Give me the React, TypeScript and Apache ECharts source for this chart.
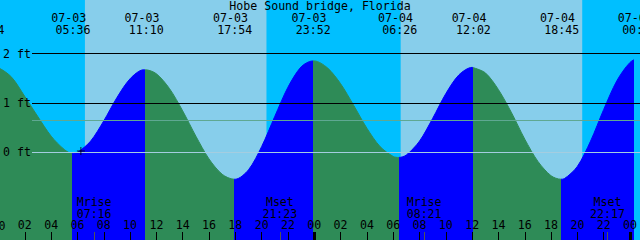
import React, { useEffect, useRef } from 'react';
import * as echarts from 'echarts';

// ---------- data ----------
const TITLE = 'Hobe Sound bridge, Florida';

// high / low tide events
const tideEventDates = ['07-02', '07-03', '07-03', '07-03', '07-03', '07-04', '07-04', '07-04', '07-05'];
const tideEventTimes = ['23:04', '05:36', '11:10', '17:54', '23:52', '06:26', '12:02', '18:45', '00:40'];
const tideEventKinds = ['H', 'L', 'H', 'L', 'H', 'L', 'H', 'L', 'H'];

// tide curve (hours from 07-03 00:00, feet)
const tideHours = [
  -1, -0.93, 0, 1, 2, 3, 4, 5, 5.6,
  6, 7, 8, 9, 10, 11, 11.17,
  12, 13, 14, 15, 16, 17, 17.9,
  18, 19, 20, 21, 22, 23, 23.87,
  24, 25, 26, 27, 28, 29, 30, 30.43,
  31, 32, 33, 34, 35, 36, 36.03,
  37, 38, 39, 40, 41, 42, 42.75,
  43, 44, 45, 46, 47, 48, 48.67, 49,
];
const tideFeet = [
  1.76, 1.76, 1.71, 1.52, 1.13, 0.72, 0.33, 0.06, -0.02,
  0.0, 0.23, 0.64, 1.11, 1.49, 1.67, 1.67,
  1.59, 1.29, 0.84, 0.33, -0.13, -0.44, -0.54,
  -0.54, -0.35, 0.12, 0.73, 1.32, 1.73, 1.85,
  1.85, 1.71, 1.39, 0.95, 0.49, 0.12, -0.08, -0.1,
  -0.05, 0.23, 0.69, 1.19, 1.57, 1.72, 1.72,
  1.61, 1.27, 0.8, 0.27, -0.18, -0.47, -0.54,
  -0.53, -0.28, 0.23, 0.87, 1.45, 1.82, 1.9, 1.88,
];

// sun
const sunDates = ['07-03', '07-04'];
const sunriseTimes = ['06:34', '06:34'];
const sunsetTimes = ['20:22', '20:22'];

// moon
const moonDates = ['07-03', '07-03', '07-04', '07-04'];
const moonTimes = ['07:16', '21:23', '08:21', '22:17'];
const moonKinds = ['Mrise', 'Mset', 'Mrise', 'Mset'];

// day boundaries
const dayStarts = ['07-04', '07-05'];

// axis ticks / labels
const hourTicks = [0, 2, 4, 6, 8, 10, 12, 14, 16, 18, 20, 22, 24, 26, 28, 30, 32, 34, 36, 38, 40, 42, 44, 46, 48];
const depthLabels = [0, 1, 2];
const blackDepthLines = [1, 2];
const datumLevel = 0;
const mslLevel = 0.65;
const plusMark = [6.26, 0.03];

// ---------- styling ----------
const NIGHT = '#00BFFF';
const DAY = '#87CEEB';
const FLOOD = '#0000FF';
const EBB = '#2E8B57';
const FONT = 'DejaVu Sans Mono';
const FS = 11.6;
const X_MIN = 0.1875;
const X_MAX = 48.1875;

function toHours(date: string, time: string): number {
  const day = parseInt(date.slice(3), 10) - 3;
  const [hh, mm] = time.split(':').map(Number);
  return day * 24 + hh + mm / 60;
}

const hourText = (v: number) => String(Math.round(v) % 24).padStart(2, '0');

export default function App() {
  const ref = useRef<HTMLDivElement>(null);

  useEffect(() => {
    const chart = echarts.init(ref.current!, null, { renderer: 'svg' });

    const ev = tideEventDates.map((d, i) => ({
      t: toHours(d, tideEventTimes[i]),
      date: d,
      time: tideEventTimes[i],
      kind: tideEventKinds[i],
    }));

    const pieces: any[] = [];
    pieces.push({ lt: ev[0].t, color: ev[0].kind === 'H' ? FLOOD : EBB });
    for (let i = 0; i < ev.length - 1; i++) {
      pieces.push({ gte: ev[i].t, lt: ev[i + 1].t, color: ev[i].kind === 'L' ? FLOOD : EBB });
    }
    pieces.push({ gte: ev[ev.length - 1].t, color: ev[ev.length - 1].kind === 'L' ? FLOOD : EBB });

    const dayAreas = sunDates.map((d, i) => [
      { xAxis: toHours(d, sunriseTimes[i]) },
      { xAxis: toHours(d, sunsetTimes[i]) },
    ]);

    const labelPoints: any[] = [];
    ev.forEach((e) => {
      labelPoints.push({ xAxis: e.t, y: 17.7, label: { formatter: e.date, offset: [-3.5, 0] } });
      labelPoints.push({ xAxis: e.t, y: 30, label: { formatter: e.time, offset: [0.8, 0] } });
    });
    moonDates.forEach((d, i) => {
      labelPoints.push({
        xAxis: toHours(d, moonTimes[i]),
        y: 208,
        label: { formatter: moonKinds[i] + '\n' + moonTimes[i] },
      });
    });
    // hour labels that fall just outside the axis extent (partly visible at the edge)
    hourTicks
      .filter((h) => h < X_MIN || h > X_MAX)
      .forEach((h) => {
        labelPoints.push({ xAxis: h, y: 225.5, label: { formatter: hourText(h) } });
      });

    const overlayLines: any[] = [
      [
        { x: 32, yAxis: datumLevel, lineStyle: { color: '#a4cde0', width: 1, type: 'solid' } },
        { x: 640, yAxis: datumLevel },
      ],
      [
        { x: 32, yAxis: mslLevel, lineStyle: { color: '#5fa892', width: 1, type: 'solid' } },
        { x: 640, yAxis: mslLevel },
      ],
    ];
    dayStarts.forEach((d) => {
      const t = toHours(d, '00:00');
      overlayLines.push([
        { xAxis: t, y: 232, lineStyle: { color: '#000', width: 3, type: 'solid' } },
        { xAxis: t, y: 240 },
      ]);
    });
    moonDates.forEach((d, i) => {
      const t = toHours(d, moonTimes[i]);
      overlayLines.push([
        { xAxis: t, y: 232, lineStyle: { color: '#555', width: 1, type: 'solid' } },
        { xAxis: t, y: 240 },
      ]);
    });

    const option: any = {
      animation: false,
      backgroundColor: NIGHT,
      title: {
        text: TITLE,
        left: 'center',
        top: 0,
        padding: 0,
        textStyle: { fontFamily: FONT, fontSize: FS, fontWeight: 'normal', color: '#000', lineHeight: 12 },
      },
      grid: { left: 0, right: 0, top: 0, bottom: 0, containLabel: false },
      xAxis: {
        type: 'value',
        z: 10,
        min: X_MIN,
        max: X_MAX,
        position: 'bottom',
        axisLine: { show: false, onZero: false },
        splitLine: { show: false },
        axisTick: {
          show: true,
          inside: true,
          length: 8,
          customValues: hourTicks,
          lineStyle: { color: '#000', width: 1 },
        },
        axisLabel: {
          show: true,
          inside: true,
          margin: 9,
          customValues: hourTicks,
          showMinLabel: true,
          showMaxLabel: true,
          hideOverlap: false,
          color: '#000',
          fontFamily: FONT,
          fontSize: FS,
          lineHeight: 12,
          formatter: hourText,
        },
      },
      yAxis: {
        type: 'value',
        z: 10,
        min: -1.768,
        max: 3.081,
        axisLine: { show: false, onZero: false },
        axisTick: { show: false },
        splitLine: { show: false },
        axisLabel: {
          show: true,
          inside: true,
          margin: 2,
          customValues: depthLabels,
          color: '#000',
          fontFamily: FONT,
          fontSize: FS,
          formatter: (v: number) => `${v} ft`,
        },
      },
      visualMap: {
        type: 'piecewise',
        show: false,
        dimension: 0,
        seriesIndex: 2,
        pieces,
      },
      series: [
        {
          type: 'line',
          z: 1,
          data: [],
          silent: true,
          markArea: { silent: true, itemStyle: { color: DAY, opacity: 1 }, data: dayAreas },
        },
        {
          type: 'line',
          z: 2,
          data: [],
          silent: true,
          markLine: {
            silent: true,
            symbol: ['none', 'none'],
            label: { show: false },
            lineStyle: { color: '#000', width: 1, type: 'solid' },
            data: blackDepthLines.map((v) => [{ x: 32, yAxis: v }, { x: 640, yAxis: v }]),
          },
        },
        {
          type: 'line',
          z: 3,
          silent: true,
          data: tideHours.map((t, i) => [t, tideFeet[i]]),
          smooth: 0.3,
          showSymbol: false,
          symbol: 'none',
          lineStyle: { width: 1 },
          areaStyle: { opacity: 1, origin: 'start' },
        },
        {
          type: 'line',
          z: 4,
          data: [],
          silent: true,
          markLine: {
            silent: true,
            symbol: ['none', 'none'],
            label: { show: false },
            data: overlayLines,
          },
        },
        {
          type: 'scatter',
          z: 5,
          silent: true,
          data: [plusMark],
          symbol: 'path://M0,5H10M5,0V10',
          symbolSize: 8,
          itemStyle: { color: 'transparent', borderColor: '#000', borderWidth: 1 },
          markPoint: {
            silent: true,
            symbol: 'circle',
            symbolSize: 1,
            itemStyle: { color: 'transparent' },
            label: {
              show: true,
              position: 'inside',
              color: '#000',
              fontFamily: FONT,
              fontSize: FS,
              lineHeight: 12.3,
            },
            data: labelPoints,
          },
        },
      ],
    };

    chart.setOption(option);
    return () => chart.dispose();
  }, []);

  return <div ref={ref} style={{ position: 'fixed', left: 0, top: 0, width: 640, height: 240 }} />;
}
